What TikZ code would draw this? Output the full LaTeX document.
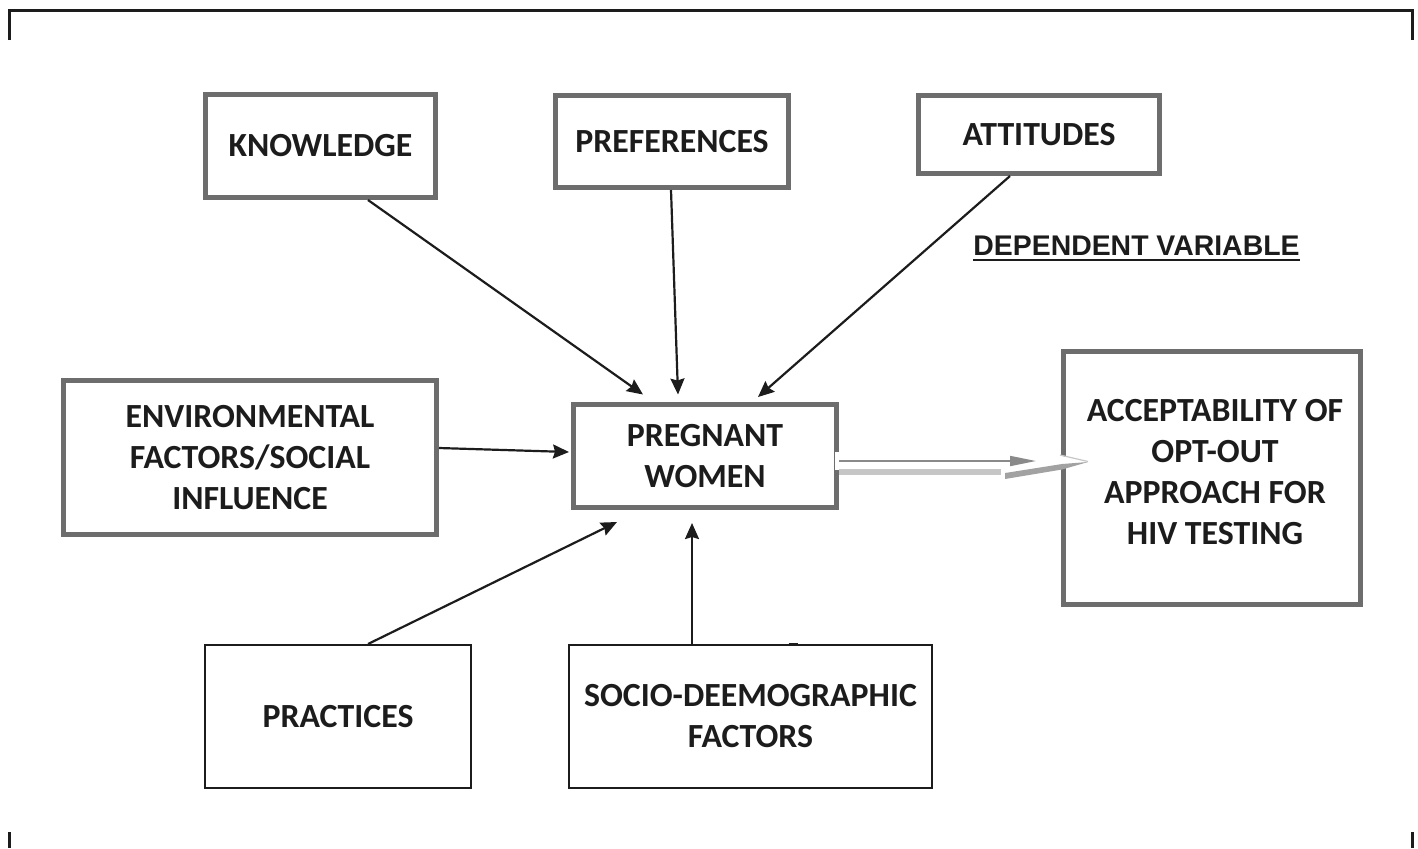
\documentclass[tikz,border=0pt]{standalone}
\usepackage{fontspec}
\setmainfont{Carlito}
\newfontfamily\arialf{Liberation Sans}
\usetikzlibrary{calc,arrows.meta}
\definecolor{boxgray}{HTML}{6D6D6D}
\definecolor{ink}{HTML}{1C1C1C}
\definecolor{lightbar}{HTML}{C6C6C6}
\definecolor{midbar}{HTML}{A2A2A2}
\definecolor{thinarr}{HTML}{8A8A8A}
\tikzset{
  lbl/.style={font=\fontsize{16.9}{20.5}\selectfont\bfseries, text=ink, align=center, inner sep=0pt},
  graybox/.style={lbl, draw=boxgray, line width=2.5pt},
  darkbox/.style={lbl, draw=ink, line width=1pt},
  arr/.style={draw=ink, line width=1.1pt, -{Stealth[length=8pt,width=7pt,inset=1pt]}},
  frameline/.style={draw=ink, line width=1.5pt}
}
\begin{document}
\begin{tikzpicture}[x=0.5pt,y=-0.5pt]
\useasboundingbox (0,0) rectangle (1418,848);
% frame
\draw[frameline] (9,40) -- (9,10) -- (1412,10) -- (1412,40);
\draw[frameline] (9,832) -- (9,848);
\draw[frameline] (1412,832) -- (1412,848);
% boxes
\node[graybox, minimum width=115pt, minimum height=51.5pt] (kn) at (320.5,146) {KNOWLEDGE};
\node[graybox, minimum width=116.5pt, minimum height=46pt] (pref) at (672,141.5) {PREFERENCES};
\node[graybox, minimum width=120.5pt, minimum height=39pt] (att) at (1039,134.5) {ATTITUDES};
\node[graybox, minimum width=186.5pt, minimum height=77pt] (env) at (250,457.5) {ENVIRONMENTAL\\FACTORS/SOCIAL\\INFLUENCE};
\node[graybox, minimum width=131.5pt, minimum height=51.5pt] (pw) at (705,456) {PREGNANT\\WOMEN};
\node[graybox, minimum width=148.5pt, minimum height=126.5pt] (acc) at (1212,478) {};
\node[lbl] (acct) at (1215,472) {ACCEPTABILITY OF\\OPT-OUT\\APPROACH FOR\\HIV TESTING};
\node[darkbox, minimum width=133pt, minimum height=71.5pt] (prac) at (338,716.5) {PRACTICES};
\node[darkbox, minimum width=181.5pt, minimum height=71.5pt] (soc) at (750.5,716.5) {SOCIO-DEEMOGRAPHIC\\FACTORS};
\draw[ink, line width=1.5pt] ($(soc.north)+(38,0)$) -- ($(soc.north)+(47,0)$);
% dependent variable label
\node[font=\arialf\fontsize{14.2}{16}\selectfont\bfseries, text=ink, inner sep=0pt, anchor=base] (dv) at (1136.5,255) {DEPENDENT VARIABLE};
\draw[ink, line width=1pt] ($(dv.base west)+(0,5)$) -- ($(dv.base east)+(0,5)$);
% arrows into pregnant women
\draw[arr] ($(kn.south)+(47.5,0)$) -- ($(pw.north)+(-62,-7.5)$);
\draw[arr] ($(pref.south)+(-1,0)$) -- ($(pw.north)+(-27,-7.5)$);
\draw[arr] ($(att.south)+(-29,0)$) -- ($(pw.north)+(53,-5)$);
\draw[arr] ($(env.east)+(0,-9.5)$) -- ($(pw.west)+(-2,-4)$);
\draw[arr] ($(prac.north)+(30,0)$) -- ($(pw.south)+(-88,12)$);
\draw[arr] ($(soc.north)+(-58.5,0)$) -- ($(pw.south)+(-13,13)$);
% shaded arrow pregnant women -> acceptability
\fill[white] ($(pw.east)+(-4,-4)$) rectangle ($(pw.east)+(4,14)$);
\draw[thinarr, line width=0.9pt, -{Triangle[length=13pt,width=5pt]}] ($(pw.east)+(0,5)$) -- ($(acc.west)+(-25,-17)$);
\draw[lightbar, line width=3pt] ($(pw.east)+(0,16)$) -- ($(acc.west)+(-60,-6)$);
\fill[white] (1058,455) -- (1088,462) -- (1058,467) -- cycle;
\draw[lightbar, line width=0.6pt] (1060,455) -- (1088,461.5);
\fill[midbar] (1005,473) -- (1005,479) -- (1062,469.5) -- (1088,462) -- (1062,464) -- cycle;
\end{tikzpicture}
\end{document}
